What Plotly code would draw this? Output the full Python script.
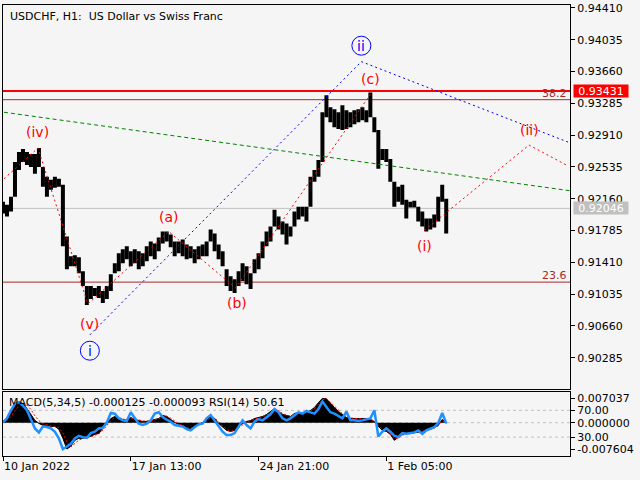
import plotly.graph_objects as go

# ---------------- data ----------------
bars = list(range(0, 448, 4))  # hourly bar index (sampled)

high = [0.92125, 0.92090, 0.92184, 0.92594, 0.92711, 0.92746, 0.92711, 0.92688, 0.92688, 0.92758,
        0.92535, 0.92418, 0.92383, 0.92418, 0.92395, 0.92324, 0.91715, 0.91481, 0.91492, 0.91469,
        0.91305, 0.91129, 0.91129, 0.91106, 0.91129, 0.91070, 0.91129, 0.91270, 0.91399, 0.91516,
        0.91563, 0.91598, 0.91539, 0.91563, 0.91539, 0.91516, 0.91598, 0.91656, 0.91633, 0.91703,
        0.91773, 0.91773, 0.91738, 0.91656, 0.91656, 0.91680, 0.91621, 0.91598, 0.91563, 0.91598,
        0.91621, 0.91656, 0.91797, 0.91750, 0.91621, 0.91539, 0.91328, 0.91246, 0.91211, 0.91305,
        0.91399, 0.91363, 0.91281, 0.91445, 0.91516, 0.91656, 0.91773, 0.91832, 0.92031, 0.91949,
        0.91891, 0.91867, 0.91832, 0.92008, 0.92066, 0.92066, 0.92066, 0.92418, 0.92500, 0.92617,
        0.93180, 0.93379, 0.93238, 0.93215, 0.93180, 0.93262, 0.93203, 0.93180, 0.93203, 0.93215,
        0.93238, 0.93203, 0.93414, 0.93121, 0.92969, 0.92746, 0.92746, 0.92629, 0.92359, 0.92301,
        0.92324, 0.92148, 0.92125, 0.92137, 0.92066, 0.92008, 0.91926, 0.91926, 0.91973, 0.92184,
        0.92324, 0.92160]

low = [0.91984, 0.91949, 0.92008, 0.92184, 0.92500, 0.92594, 0.92559, 0.92535, 0.92453, 0.92535,
       0.92301, 0.92184, 0.92266, 0.92289, 0.92301, 0.91598, 0.91328, 0.91363, 0.91363, 0.91281,
       0.91129, 0.90906, 0.90977, 0.91012, 0.90988, 0.90930, 0.90977, 0.91070, 0.91281, 0.91305,
       0.91399, 0.91445, 0.91363, 0.91399, 0.91328, 0.91363, 0.91422, 0.91481, 0.91445, 0.91539,
       0.91633, 0.91656, 0.91586, 0.91481, 0.91516, 0.91481, 0.91445, 0.91457, 0.91399, 0.91445,
       0.91481, 0.91481, 0.91656, 0.91539, 0.91445, 0.91363, 0.91129, 0.91070, 0.91047, 0.91129,
       0.91188, 0.91152, 0.91094, 0.91281, 0.91328, 0.91457, 0.91598, 0.91656, 0.91832, 0.91797,
       0.91738, 0.91621, 0.91715, 0.91832, 0.91914, 0.91949, 0.91891, 0.92066, 0.92359, 0.92418,
       0.92594, 0.93121, 0.93063, 0.93004, 0.92981, 0.92969, 0.92981, 0.93004, 0.93039, 0.93063,
       0.93086, 0.93063, 0.93121, 0.92945, 0.92512, 0.92617, 0.92594, 0.92359, 0.92066, 0.92125,
       0.92090, 0.91926, 0.92055, 0.92055, 0.91891, 0.91832, 0.91773, 0.91797, 0.91820, 0.91891,
       0.92125, 0.91750]

macd = [0.00037, 0.00123, 0.00353, 0.00525, 0.00611, 0.00554, 0.00410, 0.00238, 0.00066, -0.00020,
        -0.00077, -0.00077, -0.00106, -0.00106, -0.00192, -0.00451, -0.00760, -0.00680, -0.00508, -0.00451,
        -0.00451, -0.00422, -0.00393, -0.00336, -0.00307, -0.00164, -0.00020, 0.00123, 0.00181, 0.00123,
        0.00095, 0.00066, 0.00152, 0.00095, 0.00066, 0.00037, 0.00037, 0.00066, 0.00095, 0.00123,
        0.00210, 0.00181, 0.00095, 0.00009, -0.00049, -0.00106, -0.00164, -0.00164, -0.00106, -0.00049,
        0.00009, 0.00066, 0.00181, 0.00123, -0.00020, -0.00135, -0.00221, -0.00250, -0.00221, -0.00106,
        -0.00020, 0.00037, 0.00066, 0.00123, 0.00152, 0.00181, 0.00238, 0.00324, 0.00410, 0.00324,
        0.00238, 0.00210, 0.00181, 0.00267, 0.00296, 0.00296, 0.00296, 0.00353, 0.00439, 0.00583,
        0.00704, 0.00690, 0.00554, 0.00439, 0.00324, 0.00238, 0.00152, 0.00123, 0.00123, 0.00123,
        0.00123, 0.00123, 0.00095, 0.00037, -0.00106, -0.00221, -0.00250, -0.00336, -0.00508, -0.00422,
        -0.00336, -0.00307, -0.00307, -0.00278, -0.00278, -0.00250, -0.00221, -0.00192, -0.00135, -0.00077,
        0.00095, -0.000125]

signal = [0.00010, 0.00060, 0.00180, 0.00350, 0.00480, 0.00560, 0.00510, 0.00380, 0.00200, 0.00060,
          -0.00030, -0.00070, -0.00090, -0.00100, -0.00140, -0.00300, -0.00560, -0.00700, -0.00600, -0.00500,
          -0.00460, -0.00440, -0.00410, -0.00360, -0.00320, -0.00220, -0.00080, 0.00060, 0.00150, 0.00150,
          0.00110, 0.00080, 0.00120, 0.00110, 0.00080, 0.00050, 0.00040, 0.00050, 0.00080, 0.00110,
          0.00170, 0.00190, 0.00130, 0.00040, -0.00030, -0.00080, -0.00140, -0.00160, -0.00130, -0.00070,
          -0.00010, 0.00050, 0.00140, 0.00140, 0.00030, -0.00100, -0.00190, -0.00240, -0.00230, -0.00140,
          -0.00050, 0.00020, 0.00060, 0.00100, 0.00140, 0.00170, 0.00220, 0.00300, 0.00380, 0.00350,
          0.00270, 0.00220, 0.00190, 0.00240, 0.00280, 0.00290, 0.00295, 0.00340, 0.00410, 0.00540,
          0.00660, 0.00700, 0.00590, 0.00470, 0.00350, 0.00260, 0.00180, 0.00140, 0.00125, 0.00123,
          0.00123, 0.00123, 0.00100, 0.00050, -0.00070, -0.00190, -0.00240, -0.00320, -0.00470, -0.00440,
          -0.00360, -0.00320, -0.00310, -0.00285, -0.00280, -0.00255, -0.00225, -0.00200, -0.00150, -0.00090,
          0.00060, -0.000093]

rsi = [52, 58, 70, 80, 82, 77, 70, 55, 43, 37,
       46, 45, 43, 38, 28, 12, 16, 20, 28, 32,
       30, 29, 36, 38, 43, 44, 52, 66, 65, 58,
       55, 54, 67, 58, 50, 48, 50, 55, 65, 67,
       60, 56, 53, 48, 47, 46, 42, 40, 45, 49,
       50, 58, 63, 54, 46, 38, 33, 33, 36, 46,
       55, 48, 43, 53, 57, 55, 60, 64, 72, 67,
       58, 55, 58, 63, 67, 65, 69, 67, 65, 72,
       83, 75, 67, 65, 61, 58, 68, 55, 55, 54,
       55, 56, 58, 70, 31, 38, 43, 38, 32, 30,
       36, 35, 36, 37, 40, 35, 40, 42, 45, 51,
       66, 50.61]

last_price = 0.92046
level_red = 0.93431
fib_names = ["38.2", "23.6"]
fib_prices = [0.93328, 0.91176]

price_ticks = [0.94410, 0.94035, 0.93660, 0.93285, 0.92910, 0.92535,
               0.92160, 0.91785, 0.91410, 0.91035, 0.90660, 0.90285]
time_tick_bars = [0, 128, 256, 384]
time_tick_labels = ["10 Jan 2022", "17 Jan 13:00", "24 Jan 21:00", "1 Feb 05:00"]
macd_ticks = [0.007037, 0.0, -0.007604]
macd_tick_text = ["0.007037", "0.000000", "-0.007604"]
rsi_levels = [70, 30]
rsi_tick_text = ["70.00", "30.00"]

# minor wave path: (start)-(iv)-(v)-(a)-(b)-(c)  and  (i)-(ii)-(end)
minor_wave_bars = [1, 35, 85, 166, 233, 368, None, 422, 527, 566]
minor_wave_prices = [0.92395, 0.92758, 0.90918, 0.91773, 0.91106, 0.93390, None, 0.91785, 0.92793, 0.92547]
major_wave_bars = [87, 359, 566]
major_wave_prices = [0.90554, 0.93777, 0.92828]
trend_bars = [1, 568]
trend_prices = [0.93180, 0.92254]

minor_labels = ["(iv)", "(v)", "(a)", "(b)", "(c)", "(i)", "(ii)"]
minor_label_bars = [35, 87, 166, 234, 368, 422, 527]
minor_label_prices = [0.92945, 0.90683, 0.91949, 0.90930, 0.93578, 0.91598, 0.92969]
major_labels = ["i", "ii"]
major_label_bars = [87, 359]
major_label_prices = [0.90367, 0.93965]

# ---------------- figure ----------------
FONT = "DejaVu Sans"
BG = "#f5f5f5"
BROWN = "#a52a2a"
MAIN_DOM = [0.14758, 1.0]
SUB_DOM = [0.0, 0.14097]

fig = go.Figure()

fig.add_trace(go.Bar(x=bars, y=[h - l for h, l in zip(high, low)], base=low, width=4,
                     marker=dict(color="black", line=dict(width=0)),
                     xaxis="x", yaxis="y", hoverinfo="skip"))
fig.add_trace(go.Scatter(x=trend_bars, y=trend_prices, mode="lines",
                         line=dict(color="#008000", width=1, dash="4px,3px"),
                         xaxis="x", yaxis="y"))
fig.add_trace(go.Scatter(x=major_wave_bars, y=major_wave_prices, mode="lines",
                         line=dict(color="#0000ff", width=1, dash="2px,3px"),
                         xaxis="x", yaxis="y"))
fig.add_trace(go.Scatter(x=minor_wave_bars, y=minor_wave_prices, mode="lines", connectgaps=False,
                         line=dict(color="#ff0000", width=1, dash="2px,3px"),
                         xaxis="x", yaxis="y"))

fig.add_trace(go.Scatter(x=bars, y=macd, mode="lines", fill="tozeroy", fillcolor="black",
                         line=dict(color="black", width=1), xaxis="x2", yaxis="y2"))
fig.add_trace(go.Scatter(x=bars, y=signal, mode="lines",
                         line=dict(color="#ff0000", width=1, dash="2px,2px"),
                         xaxis="x2", yaxis="y2"))
fig.add_trace(go.Scatter(x=bars, y=rsi, mode="lines",
                         line=dict(color="#1e90ff", width=2.5), xaxis="x2", yaxis="y3"))

shapes = []
shapes.append(dict(type="line", xref="x domain", yref="y", x0=0, x1=1,
                   y0=last_price, y1=last_price, line=dict(color="#c0c0c0", width=1), layer="below"))
for p in fib_prices:
    shapes.append(dict(type="line", xref="x domain", yref="y", x0=0, x1=1,
                       y0=p, y1=p, line=dict(color=BROWN, width=1), layer="below"))
shapes.append(dict(type="line", xref="x domain", yref="y", x0=0, x1=1,
                   y0=level_red, y1=level_red, line=dict(color="#ff0000", width=2), layer="below"))
for b, p in zip(major_label_bars, major_label_prices):
    shapes.append(dict(type="circle", xref="x", yref="y", xsizemode="pixel", ysizemode="pixel",
                       xanchor=b, yanchor=p, x0=-9.5, x1=9.5, y0=-9.5, y1=9.5,
                       line=dict(color="#0000ff", width=1)))
for lv in rsi_levels:
    shapes.append(dict(type="line", xref="x2 domain", yref="y3", x0=0, x1=1, y0=lv, y1=lv,
                       line=dict(color="#c0c0c0", width=1, dash="3px,3px"), layer="below"))
shapes.append(dict(type="line", xref="x2 domain", yref="y2", x0=0, x1=1, y0=0, y1=0,
                   line=dict(color="#c0c0c0", width=1, dash="3px,3px"), layer="below"))

ann = []
ann.append(dict(text="USDCHF, H1:\u00a0 US Dollar vs Swiss Franc", xref="paper", yref="paper",
                x=0, y=1, xanchor="left", yanchor="top", xshift=5, yshift=-3, showarrow=False,
                font=dict(family=FONT, size=11, color="black")))
ann.append(dict(text="MACD(5,34,5) -0.000125 -0.000093 RSI(14) 50.61", xref="paper", yref="paper",
                x=0, y=SUB_DOM[1], xanchor="left", yanchor="top", xshift=4, yshift=-2, showarrow=False,
                font=dict(family=FONT, size=11, color="black")))
for name, p in zip(fib_names, fib_prices):
    ann.append(dict(text=name, xref="x domain", yref="y", x=1, y=p, xanchor="right", yanchor="bottom",
                    xshift=-1, yshift=-2, showarrow=False, font=dict(family=FONT, size=11, color=BROWN)))
ann.append(dict(text="0.93431", xref="paper", yref="y", x=1, y=level_red, xanchor="left",
                xshift=3, showarrow=False, bgcolor="#ff0000", width=54, height=12, borderpad=0,
                font=dict(family=FONT, size=11, color="white")))
ann.append(dict(text="0.92046", xref="paper", yref="y", x=1, y=last_price, xanchor="left",
                xshift=3, showarrow=False, bgcolor="#c0c0c0", width=54, height=12, borderpad=0,
                font=dict(family=FONT, size=11, color="white")))
for t, b, p in zip(minor_labels, minor_label_bars, minor_label_prices):
    ann.append(dict(text=t, xref="x", yref="y", x=b, y=p, showarrow=False,
                    font=dict(family=FONT, size=14, color="#ff0000")))
for t, b, p in zip(major_labels, major_label_bars, major_label_prices):
    ann.append(dict(text=t, xref="x", yref="y", x=b, y=p, showarrow=False,
                    font=dict(family=FONT, size=14, color="#0000ff")))

axis_common = dict(showgrid=False, zeroline=False, showline=True, linecolor="black",
                   linewidth=1, mirror=True)
fig.update_layout(
    width=640, height=480,
    margin=dict(l=2, r=70, t=2, b=24),
    paper_bgcolor=BG, plot_bgcolor=BG,
    showlegend=False, hovermode=False,
    font=dict(family=FONT, size=11, color="black"),
    xaxis=dict(domain=[0, 1], range=[0, 568], anchor="y", showticklabels=False, ticks="",
               **axis_common),
    yaxis=dict(domain=MAIN_DOM, range=[0.89910, 0.94445], side="right", anchor="x",
               tickvals=price_ticks, tickformat=".5f", ticks="outside", ticklen=4,
               tickcolor="black", ticklabeloverflow="allow", **axis_common),
    xaxis2=dict(domain=[0, 1], range=[0, 568], anchor="y2", tickvals=time_tick_bars,
                ticktext=time_tick_labels, ticks="outside", ticklen=4, tickcolor="black",
                ticklabelposition="outside right", ticklabeloverflow="allow", **axis_common),
    yaxis2=dict(domain=SUB_DOM, range=[-0.009614, 0.008760], side="right", anchor="x2",
                tickvals=macd_ticks, ticktext=macd_tick_text, ticks="outside", ticklen=4,
                tickcolor="black", ticklabeloverflow="allow", **axis_common),
    yaxis3=dict(overlaying="y2", anchor="x2", side="right", range=[1.85, 96.67],
                tickvals=rsi_levels, ticktext=rsi_tick_text, ticks="outside", ticklen=4,
                tickcolor="black", showgrid=False, zeroline=False, showline=False,
                ticklabeloverflow="allow"),
    shapes=shapes, annotations=ann,
)

fig.write_html("out.html", config={"displayModeBar": False},
               post_script="document.body.style.margin='0';document.body.style.overflow='hidden';"
                           "document.body.style.background='#f5f5f5';")
